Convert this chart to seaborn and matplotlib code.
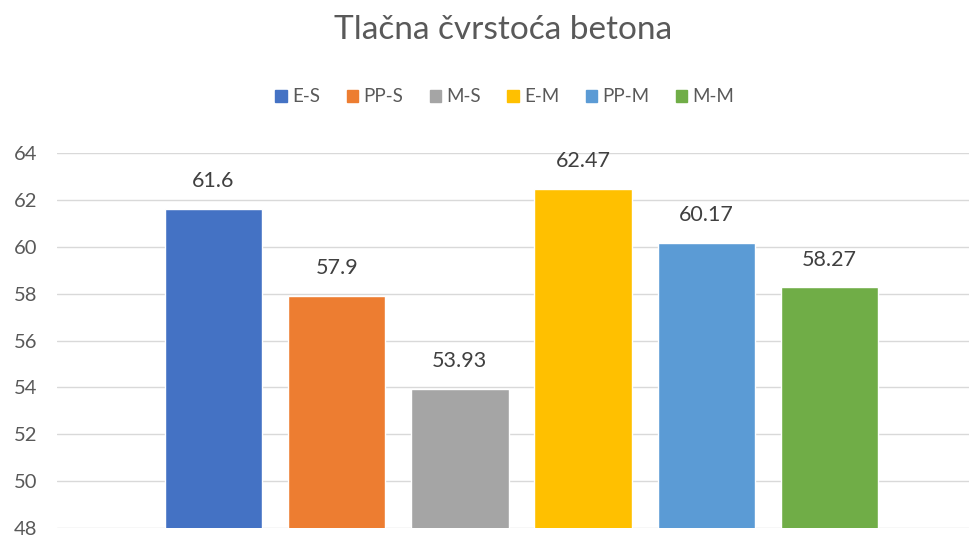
import matplotlib.pyplot as plt
import matplotlib.patches as mpatches
import seaborn as sns
import pandas as pd

series = ['E-S', 'PP-S', 'M-S', 'E-M', 'PP-M', 'M-M']
values = [61.6, 57.9, 53.93, 62.47, 60.17, 58.27]
value_labels = ['61.6', '57.9', '53.93', '62.47', '60.17', '58.27']
colors = ['#4472C4', '#ED7D31', '#A5A5A5', '#FFC000', '#5B9BD5', '#70AD47']
y_ticks = [48, 50, 52, 54, 56, 58, 60, 62, 64]

sns.set_theme(style='white')
plt.rcParams['font.family'] = ['Lato', 'DejaVu Sans']

df = pd.DataFrame({'serija': series, 'vrijednost': values})

W, H = 970, 540
fig = plt.figure(figsize=(W / 100, H / 100), dpi=100)
ax = fig.add_axes([57 / W, 12 / H, 929 / W, 375 / H])

sns.barplot(data=df, x='serija', y='vrijednost', hue='serija', palette=colors,
            width=0.79, legend=False, ax=ax, saturation=1)

ax.set_ylim(48, 64)
ax.set_xlim(-1.27, 6.27)
ax.set_yticks(y_ticks)
ax.set_xticks([])
ax.set_xlabel('')
ax.set_ylabel('')
ax.grid(True, axis='y', color='#d9d9d9', linewidth=1)
ax.set_axisbelow(True)
for s in ax.spines.values():
    s.set_visible(False)
ax.tick_params(axis='y', length=0, pad=14, labelsize=14.5, labelcolor='#595959')

for bar, lab in zip(ax.patches, value_labels):
    ax.annotate(lab, (bar.get_x() + bar.get_width() / 2, bar.get_height()),
                xytext=(0, 20), textcoords='offset points', ha='center', va='center',
                fontsize=15.5, color='#404040')

fig.text(503 / W, 1 - 30 / H, 'Tlačna čvrstoća betona', ha='center', va='center',
         fontsize=24, color='#595959')

handles = [mpatches.Patch(color=c, label=s) for s, c in zip(series, colors)]
fig.legend(handles=handles, loc='center', bbox_to_anchor=(505 / W, 1 - 97 / H),
           ncol=6, frameon=False, fontsize=13.5, labelcolor='#595959',
           handlelength=0.6, handleheight=0.6, handletextpad=0.3, columnspacing=1.4)

fig.savefig('out.png', dpi=100)
plt.close(fig)
